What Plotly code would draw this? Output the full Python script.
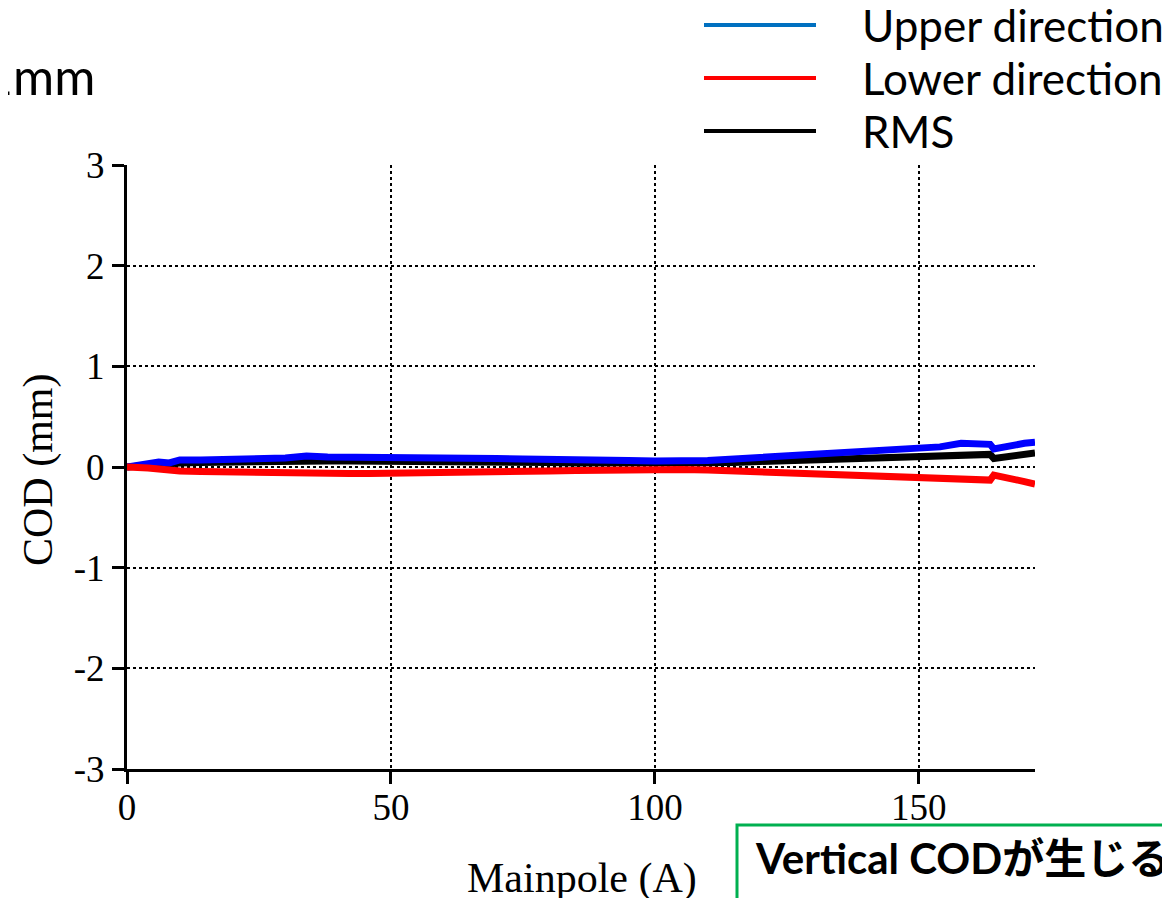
import plotly.graph_objects as go

mainpole = [0, 2, 4, 6, 8, 10, 14, 18, 22, 26, 30, 34, 38, 42, 46, 50, 55, 60, 65, 70,
            75, 80, 85, 90, 95, 100, 105, 110, 115, 120, 125, 130, 135, 140, 145, 150,
            154, 158, 161, 163.5, 164.2, 166, 168, 170, 172]
upper = [0.0, 0.02, 0.04, 0.05, 0.04, 0.07, 0.07, 0.08, 0.08, 0.085, 0.09, 0.11, 0.10, 0.10,
         0.10, 0.10, 0.095, 0.09, 0.09, 0.085, 0.08, 0.08, 0.075, 0.07, 0.065, 0.06, 0.06,
         0.065, 0.08, 0.095, 0.11, 0.13, 0.145, 0.165, 0.18, 0.20, 0.20, 0.235, 0.235, 0.225,
         0.18, 0.20, 0.22, 0.235, 0.245]
lower = [0.0, 0.0, -0.01, -0.02, -0.035, -0.04, -0.045, -0.05, -0.055, -0.06, -0.065, -0.065,
         -0.065, -0.065, -0.065, -0.06, -0.06, -0.055, -0.05, -0.05, -0.045, -0.04, -0.035,
         -0.03, -0.03, -0.025, -0.025, -0.03, -0.04, -0.05, -0.065, -0.075, -0.085, -0.09,
         -0.095, -0.10, -0.11, -0.12, -0.125, -0.13, -0.08, -0.095, -0.12, -0.145, -0.17]
rms = [0.0, 0.01, 0.02, 0.03, 0.035, 0.04, 0.045, 0.05, 0.05, 0.055, 0.055, 0.06, 0.06, 0.06,
       0.06, 0.06, 0.055, 0.055, 0.05, 0.05, 0.045, 0.045, 0.04, 0.04, 0.035, 0.035, 0.035,
       0.035, 0.045, 0.055, 0.065, 0.075, 0.08, 0.09, 0.095, 0.10, 0.11, 0.12, 0.125, 0.125,
       0.085, 0.10, 0.115, 0.13, 0.14]

x_ticks = [0, 50, 100, 150]
y_ticks = [-3, -2, -1, 0, 1, 2, 3]
y_ticktext = ["-3", "-2", "-1", "0", "1", "2", "3"]
legend_names = ["Upper direction", "Lower direction", "RMS"]
legend_colors = ["#0070C0", "#FF0000", "#000000"]

# the page body adds an 8px offset; all positions below are page pixels
OFF = 8
W, H = 1170 - OFF, 898 - OFF
L, R, T, B = 127 - OFF, 1170 - 1035, 165 - OFF, 898 - 769
pw, ph = W - L - R, H - T - B

def px(xp):
    return (xp - OFF - L) / pw

def py(yp):
    return 1 - (yp - OFF - T) / ph

fig = go.Figure()
fig.add_trace(go.Scatter(x=mainpole, y=rms, mode="lines", line=dict(color="#000000", width=7),
                         name="RMS", showlegend=False))
fig.add_trace(go.Scatter(x=mainpole, y=upper, mode="lines", line=dict(color="#0000FF", width=7),
                         name="Upper direction", showlegend=False))
fig.add_trace(go.Scatter(x=mainpole, y=lower, mode="lines", line=dict(color="#FF0000", width=7),
                         name="Lower direction", showlegend=False))

serif = "Liberation Serif, Times New Roman, serif"
sans = "Lato, Noto Sans CJK JP, sans-serif"

fig.update_xaxes(range=[0, 172], tickvals=x_ticks, ticks="outside", ticklen=12, tickwidth=3,
                 tickcolor="black", showline=True, linecolor="black", linewidth=3,
                 showgrid=True, gridcolor="black", griddash="dot", gridwidth=1.5,
                 zeroline=False, ticklabelstandoff=-8,
                 tickfont=dict(family=serif, size=37, color="black"))
fig.update_yaxes(range=[-3, 3], tickvals=y_ticks, ticktext=y_ticktext, ticks="outside",
                 ticklen=12, tickwidth=3, tickcolor="black", showline=True, linecolor="black",
                 linewidth=3, showgrid=True, gridcolor="black", griddash="dot", gridwidth=1.5,
                 zeroline=False, tickfont=dict(family=serif, size=37, color="black"))

annotations = [
    dict(text="Mainpole (A)", xref="paper", yref="paper", x=px(582), y=py(878),
         xanchor="center", yanchor="middle", showarrow=False,
         font=dict(family=serif, size=42, color="black")),
    dict(text="COD (mm)", xref="paper", yref="paper", x=px(38), y=py(470),
         xanchor="center", yanchor="middle", showarrow=False, textangle=-90,
         font=dict(family=serif, size=42, color="black")),
    dict(text="1mm", xref="paper", yref="paper", x=px(97), y=py(76),
         xanchor="right", yanchor="middle", showarrow=False,
         font=dict(family=sans, size=50, color="black")),
    dict(text="<b>Vertical CODが生じる</b>", xref="paper", yref="paper", x=px(753), y=py(858),
         xanchor="left", yanchor="middle", showarrow=False,
         font=dict(family=sans, size=42, color="black")),
]
shapes = [
    dict(type="rect", xref="paper", yref="paper", x0=px(737), x1=px(1200), y0=py(825), y1=py(920),
         line=dict(color="#00B050", width=3), fillcolor="rgba(0,0,0,0)"),
]
leg_y = [25, 78, 131]
for name, col, yy in zip(legend_names, legend_colors, leg_y):
    shapes.append(dict(type="line", xref="paper", yref="paper", x0=px(704), x1=px(816),
                       y0=py(yy), y1=py(yy), line=dict(color=col, width=4)))
    annotations.append(dict(text=name, xref="paper", yref="paper", x=px(860), y=py(yy),
                            xanchor="left", yanchor="middle", showarrow=False,
                            font=dict(family=sans, size=44, color="black")))

fig.update_layout(width=W, height=H, margin=dict(l=L, r=R, t=T, b=B),
                  plot_bgcolor="white", paper_bgcolor="white",
                  annotations=annotations, shapes=shapes, showlegend=False)

fig.write_html("out.html")
